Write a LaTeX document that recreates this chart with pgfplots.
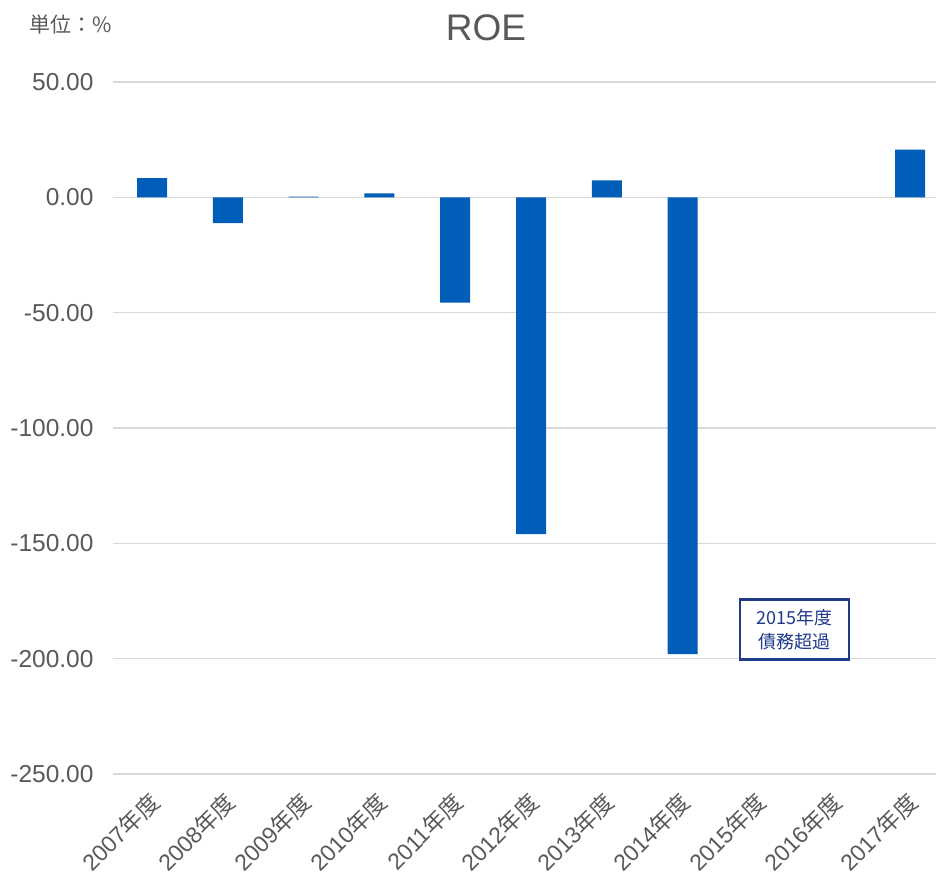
\documentclass[border=0pt]{standalone}
\usepackage{pgfplots}
\pgfplotsset{compat=1.18}
\usepackage{fontspec}
\setmainfont{Liberation Sans}
\newfontfamily\jp{Noto Sans CJK JP}
\definecolor{txt}{HTML}{595959}
\definecolor{barc}{HTML}{005EB8}
\definecolor{gridc}{HTML}{D9D9D9}
\definecolor{navy}{HTML}{1F3A8A}
\begin{document}
\begin{tikzpicture}[x=1pt,y=1pt]
\useasboundingbox (0,0) rectangle (936,885);
\begin{axis}[at={(113pt,111pt)}, anchor=south west, scale only axis,
  width=823pt, height=692pt,
  xmin=-0.515, xmax=10.343, ymin=-250, ymax=50,
  ytick={-250,-200,...,50},
  axis line style={draw=none}, tick style={draw=none},
  ymajorgrids, grid style={gridc, line width=1.5pt},
  xtick={0,...,10},
  xticklabels={2007{\jp 年度},2008{\jp 年度},2009{\jp 年度},2010{\jp 年度},2011{\jp 年度},2012{\jp 年度},2013{\jp 年度},2014{\jp 年度},2015{\jp 年度},2016{\jp 年度},2017{\jp 年度}},
  x tick label style={rotate=45, anchor=north east, font=\fontsize{23}{23}\selectfont, text=txt, inner sep=1pt, xshift=-10.5pt, yshift=-4.3pt},
  y tick label style={font=\fontsize{24.5}{24.5}\selectfont, text=txt, xshift=-16pt},
  yticklabel style={/pgf/number format/.cd, fixed, fixed zerofill, precision=2, assume math mode=true},
  ybar, bar width=30pt,
  clip=false,
]
\addplot[fill=barc, draw=none, bar shift=0pt] coordinates {
 (0,8.3) (1,-11.2) (2,0.3) (3,1.7) (4,-45.6) (5,-146) (6,7.4) (7,-198) (10,20.7)
};
\node[draw=navy, line width=2.5pt, fill=white, minimum width=109pt, minimum height=60pt,
  align=center, text=navy, font=\jp\fontsize{18}{24}\selectfont, inner sep=2pt]
  at (axis cs:8.476,-187.4) {2015年度\\債務超過};
\end{axis}
\node[font=\fontsize{37}{37}\selectfont, text=txt] at (486,857) {ROE};
\node[anchor=west, font=\jp\fontsize{21}{21}\selectfont, text=txt, inner sep=0pt] at (29,860) {単位：\%};
\end{tikzpicture}
\end{document}
